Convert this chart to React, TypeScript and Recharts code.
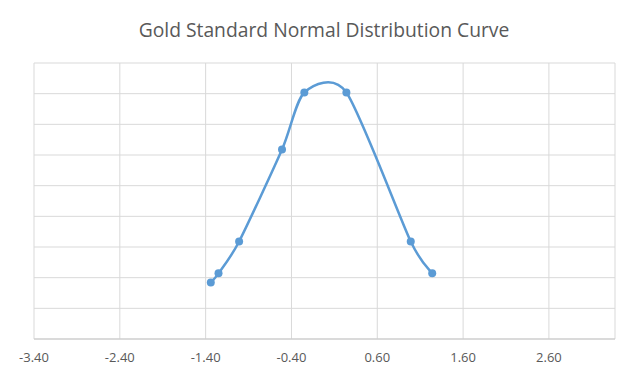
import React from 'react';
import { LineChart, Line, XAxis, YAxis, CartesianGrid } from 'recharts';

// Sample z-scores and their density readings
const zValues = [-1.34, -1.25, -1.01, -0.51, -0.25, 0.24, 0.99, 1.24];
const densityValues = [0.092, 0.107, 0.159, 0.309, 0.402, 0.402, 0.159, 0.107];

const xTicks = [-3.4, -2.4, -1.4, -0.4, 0.6, 1.6, 2.6];
const yTicks = [0, 0.05, 0.1, 0.15, 0.2, 0.25, 0.3, 0.35, 0.4, 0.45];

const data = zValues.map((z, i) => ({ z, density: densityValues[i] }));

// Spreadsheet-style smoothed line: cubic Bezier segments whose control
// points follow the neighbouring points (Catmull-Rom-like tangents).
const TENSION = 0.125;
const smoothCurve = (context: any) => {
  let xs: number[] = [];
  let ys: number[] = [];
  return {
    areaStart() {},
    areaEnd() {},
    lineStart() {
      xs = [];
      ys = [];
    },
    point(x: number, y: number) {
      xs.push(+x);
      ys.push(+y);
    },
    lineEnd() {
      const n = xs.length;
      if (!n) return;
      context.moveTo(xs[0], ys[0]);
      for (let i = 0; i < n - 1; i++) {
        const a = Math.max(i - 1, 0);
        const d = Math.min(i + 2, n - 1);
        const c1x = xs[i] + (xs[i + 1] - xs[a]) * TENSION;
        const c1y = ys[i] + (ys[i + 1] - ys[a]) * TENSION;
        const c2x = xs[i + 1] - (xs[d] - xs[i]) * TENSION;
        const c2y = ys[i + 1] - (ys[d] - ys[i]) * TENSION;
        context.bezierCurveTo(c1x, c1y, c2x, c2y, xs[i + 1], ys[i + 1]);
      }
    },
  };
};

const FONT = '"Open Sans", "Segoe UI", Arial, sans-serif';

export default function App() {
  return (
    <div style={{ position: 'absolute', left: 0, top: 0, width: 634, height: 368, background: '#fff' }}>
      <div
        style={{
          position: 'absolute',
          left: 0,
          top: 17,
          width: 648,
          textAlign: 'center',
          fontFamily: FONT,
          fontSize: 19.3,
          color: '#595959',
          lineHeight: '26px',
        }}
      >
        Gold Standard Normal Distribution Curve
      </div>
      <LineChart
        width={634}
        height={368}
        data={data}
        margin={{ top: 63, right: 19, left: 34, bottom: 0 }}
      >
        <CartesianGrid stroke="#d9d9d9" strokeWidth={1} />
        <XAxis
          dataKey="z"
          type="number"
          domain={[-3.4, 3.37]}
          ticks={xTicks}
          allowDataOverflow
          height={29}
          tickLine={false}
          tickMargin={8}
          axisLine={{ stroke: '#c8c8c8' }}
          tickFormatter={(v: number) => v.toFixed(2)}
          tick={{ fill: '#595959', fontSize: 13, fontFamily: FONT }}
        />
        <YAxis hide type="number" domain={[0, 0.45]} ticks={yTicks} />
        <Line
          dataKey="density"
          type={smoothCurve as any}
          stroke="#5b9bd5"
          strokeWidth={2.5}
          dot={{ r: 4, fill: '#5b9bd5', stroke: '#5b9bd5', strokeWidth: 0 }}
          activeDot={false}
          isAnimationActive={false}
        />
      </LineChart>
    </div>
  );
}
